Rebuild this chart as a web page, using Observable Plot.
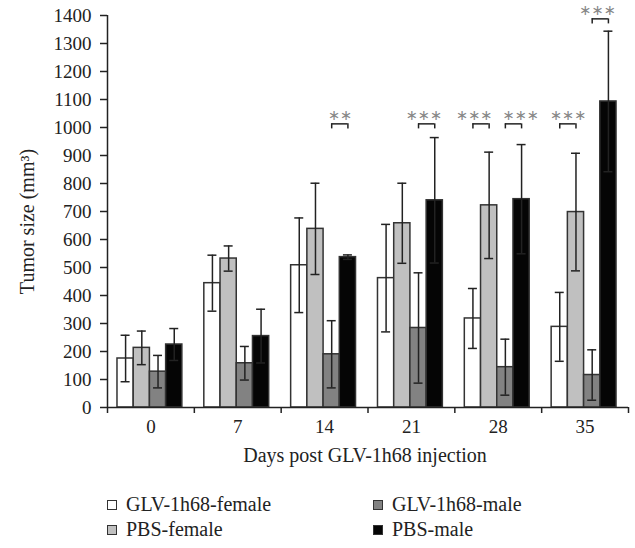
<!DOCTYPE html>
<html>
<head>
<meta charset="utf-8">
<script src="https://cdn.jsdelivr.net/npm/d3@7"></script>
<script src="https://cdn.jsdelivr.net/npm/@observablehq/plot@0.6"></script>
<style>
  body { margin: 0; background: #fff; }
  #chart { width: 635px; }
  .legend { position: relative; width: 635px; height: 58px; font-family: "Liberation Serif", serif; font-size: 20px; color: #222; }
  .item { position: absolute; display: flex; align-items: center; white-space: nowrap; line-height: 25px; }
  .sw { width: 8px; height: 8px; border: 1px solid #333; margin-right: 9px; }
</style>
</head>
<body>
<div id="chart"></div>
<script>
// ---- data ----
const days = [0, 7, 14, 21, 28, 35];
const groups = ["GLV-1h68-female", "PBS-female", "GLV-1h68-male", "PBS-male"];
const groupColors = ["#ffffff", "#c0c0c0", "#828282", "#050505"];

const glvFemaleMean = [175, 444, 508, 462, 318, 288];
const glvFemaleErr  = [83, 100, 169, 192, 107, 123];
const pbsFemaleMean = [213, 532, 638, 658, 722, 698];
const pbsFemaleErr  = [60, 45, 163, 143, 190, 210];
const glvMaleMean   = [128, 158, 190, 284, 144, 116];
const glvMaleErr    = [58, 60, 120, 197, 100, 90];
const pbsMaleMean   = [225, 255, 537, 740, 744, 1093];
const pbsMaleErr    = [57, 96, 8, 224, 195, 251];

const yTicks = [0, 100, 200, 300, 400, 500, 600, 700, 800, 900, 1000, 1100, 1200, 1300, 1400];
const yLabel = "Tumor size (mm³)";
const xLabel = "Days post GLV-1h68 injection";

// significance brackets
const sigDay   = [14, 21, 28, 28, 35, 35];
const sigFrom  = [2, 2, 0, 2, 0, 2];
const sigTo    = [3, 3, 1, 3, 1, 3];
const sigLabel = ["∗∗", "∗∗∗", "∗∗∗", "∗∗∗", "∗∗∗", "∗∗∗"];
const sigLevel = [1013, 1013, 1013, 1013, 1013, 1388];

// ---- layout helpers (band geometry in day units) ----
const band = 7;
const groupPad = 10 / 87;
const barFrac = 16.25 / 87;
const capHalf = 4.5 / 87 * band;
const legDrop = 18;
const sigLabelShift = [0, -3, -7, 7, 0, -3]; // px nudges so neighbouring star labels do not collide

const meanArrays = [glvFemaleMean, pbsFemaleMean, glvMaleMean, pbsMaleMean];
const errArrays = [glvFemaleErr, pbsFemaleErr, glvMaleErr, pbsMaleErr];

const rows = [];
days.forEach((d, i) => {
  groups.forEach((g, gi) => {
    const x1 = d - band / 2 + band * (groupPad + gi * barFrac);
    const x2 = x1 + band * barFrac;
    const m = meanArrays[gi][i], e = errArrays[gi][i];
    rows.push({day: d, group: g, gi, x1, x2, xc: (x1 + x2) / 2, mean: m, lo: m - e, hi: m + e});
  });
});
const centerOf = (d, gi) => d - band / 2 + band * (groupPad + (gi + 0.5) * barFrac);

const sigs = sigDay.map((d, i) => ({
  xa: centerOf(d, sigFrom[i]),
  xb: centerOf(d, sigTo[i]),
  y: sigLevel[i],
  label: sigLabel[i],
  shift: sigLabelShift[i]
}));
const sigLegs = sigs.flatMap(s => [{x: s.xa, y: s.y}, {x: s.xb, y: s.y}]);

const boundaries = days.map(d => d - band / 2).concat([days[days.length - 1] + band / 2]);

const starMarks = sigs.map(s => Plot.text([s], {x: d => (d.xa + d.xb) / 2, y: "y", text: "label", dy: -9, dx: s.shift,
  fill: "#888", fontFamily: "'DejaVu Sans', sans-serif", fontSize: 14.5}));

const chart = Plot.plot({
  width: 635,
  height: 490,
  marginLeft: 107,
  marginRight: 7,
  marginTop: 15,
  marginBottom: 83,
  x: {domain: [boundaries[0], boundaries[boundaries.length - 1]]},
  y: {domain: [0, 1400]},
  color: {domain: groups, range: groupColors},
  style: {fontFamily: "'Liberation Serif', serif", fontSize: "19px", color: "#222", background: "#fff", overflow: "visible"},
  marks: [
    Plot.rectY(rows, {x1: "x1", x2: "x2", y: "mean", fill: "group", stroke: "#333", strokeWidth: 1.5}),
    Plot.ruleX(rows, {x: "xc", y1: "lo", y2: "hi", stroke: "#222", strokeWidth: 1.5}),
    Plot.ruleY(rows, {y: "hi", x1: d => d.xc - capHalf, x2: d => d.xc + capHalf, stroke: "#222", strokeWidth: 1.5}),
    Plot.ruleY(rows, {y: "lo", x1: d => d.xc - capHalf, x2: d => d.xc + capHalf, stroke: "#222", strokeWidth: 1.5}),
    // axes
    Plot.axisY({ticks: yTicks, tickSize: 7, tickPadding: 9, tickFormat: d => String(d), label: null, strokeWidth: 1.5, fontSize: 19}),
    Plot.ruleX([boundaries[0]], {y1: 0, y2: 1400, stroke: "#222", strokeWidth: 1.5}),
    Plot.ruleY([0], {stroke: "#222", strokeWidth: 1.5}),
    Plot.axisX({ticks: boundaries, tickSize: 6, tickFormat: () => "", label: null, strokeWidth: 1.5}),
    Plot.axisX({ticks: days, tickSize: 0, tickPadding: 12, tickFormat: d => String(d), label: null, fontSize: 19}),
    Plot.text([yLabel], {frameAnchor: "left", rotate: -90, dx: -80, dy: 10, fontSize: 20, fill: "#222", textAnchor: "middle", lineAnchor: "middle"}),
    Plot.text([xLabel], {frameAnchor: "bottom", dx: -3, dy: 48, fontSize: 20, fill: "#222", textAnchor: "middle", lineAnchor: "middle"}),
    // significance brackets
    Plot.ruleY(sigs, {y: "y", x1: "xa", x2: "xb", stroke: "#222", strokeWidth: 1.5}),
    Plot.ruleX(sigLegs, {x: "x", y1: "y", y2: d => d.y - legDrop, stroke: "#222", strokeWidth: 1.5}),
    ...starMarks
  ]
});
document.getElementById("chart").append(chart);
</script>
<div class="legend">
  <div class="item" style="left:107px; top:2px"><span class="sw" style="background:#ffffff"></span>GLV-1h68-female</div>
  <div class="item" style="left:373px; top:2px"><span class="sw" style="background:#828282"></span>GLV-1h68-male</div>
  <div class="item" style="left:107px; top:27px"><span class="sw" style="background:#c0c0c0"></span>PBS-female</div>
  <div class="item" style="left:373px; top:27px"><span class="sw" style="background:#050505"></span>PBS-male</div>
</div>
</body>
</html>
